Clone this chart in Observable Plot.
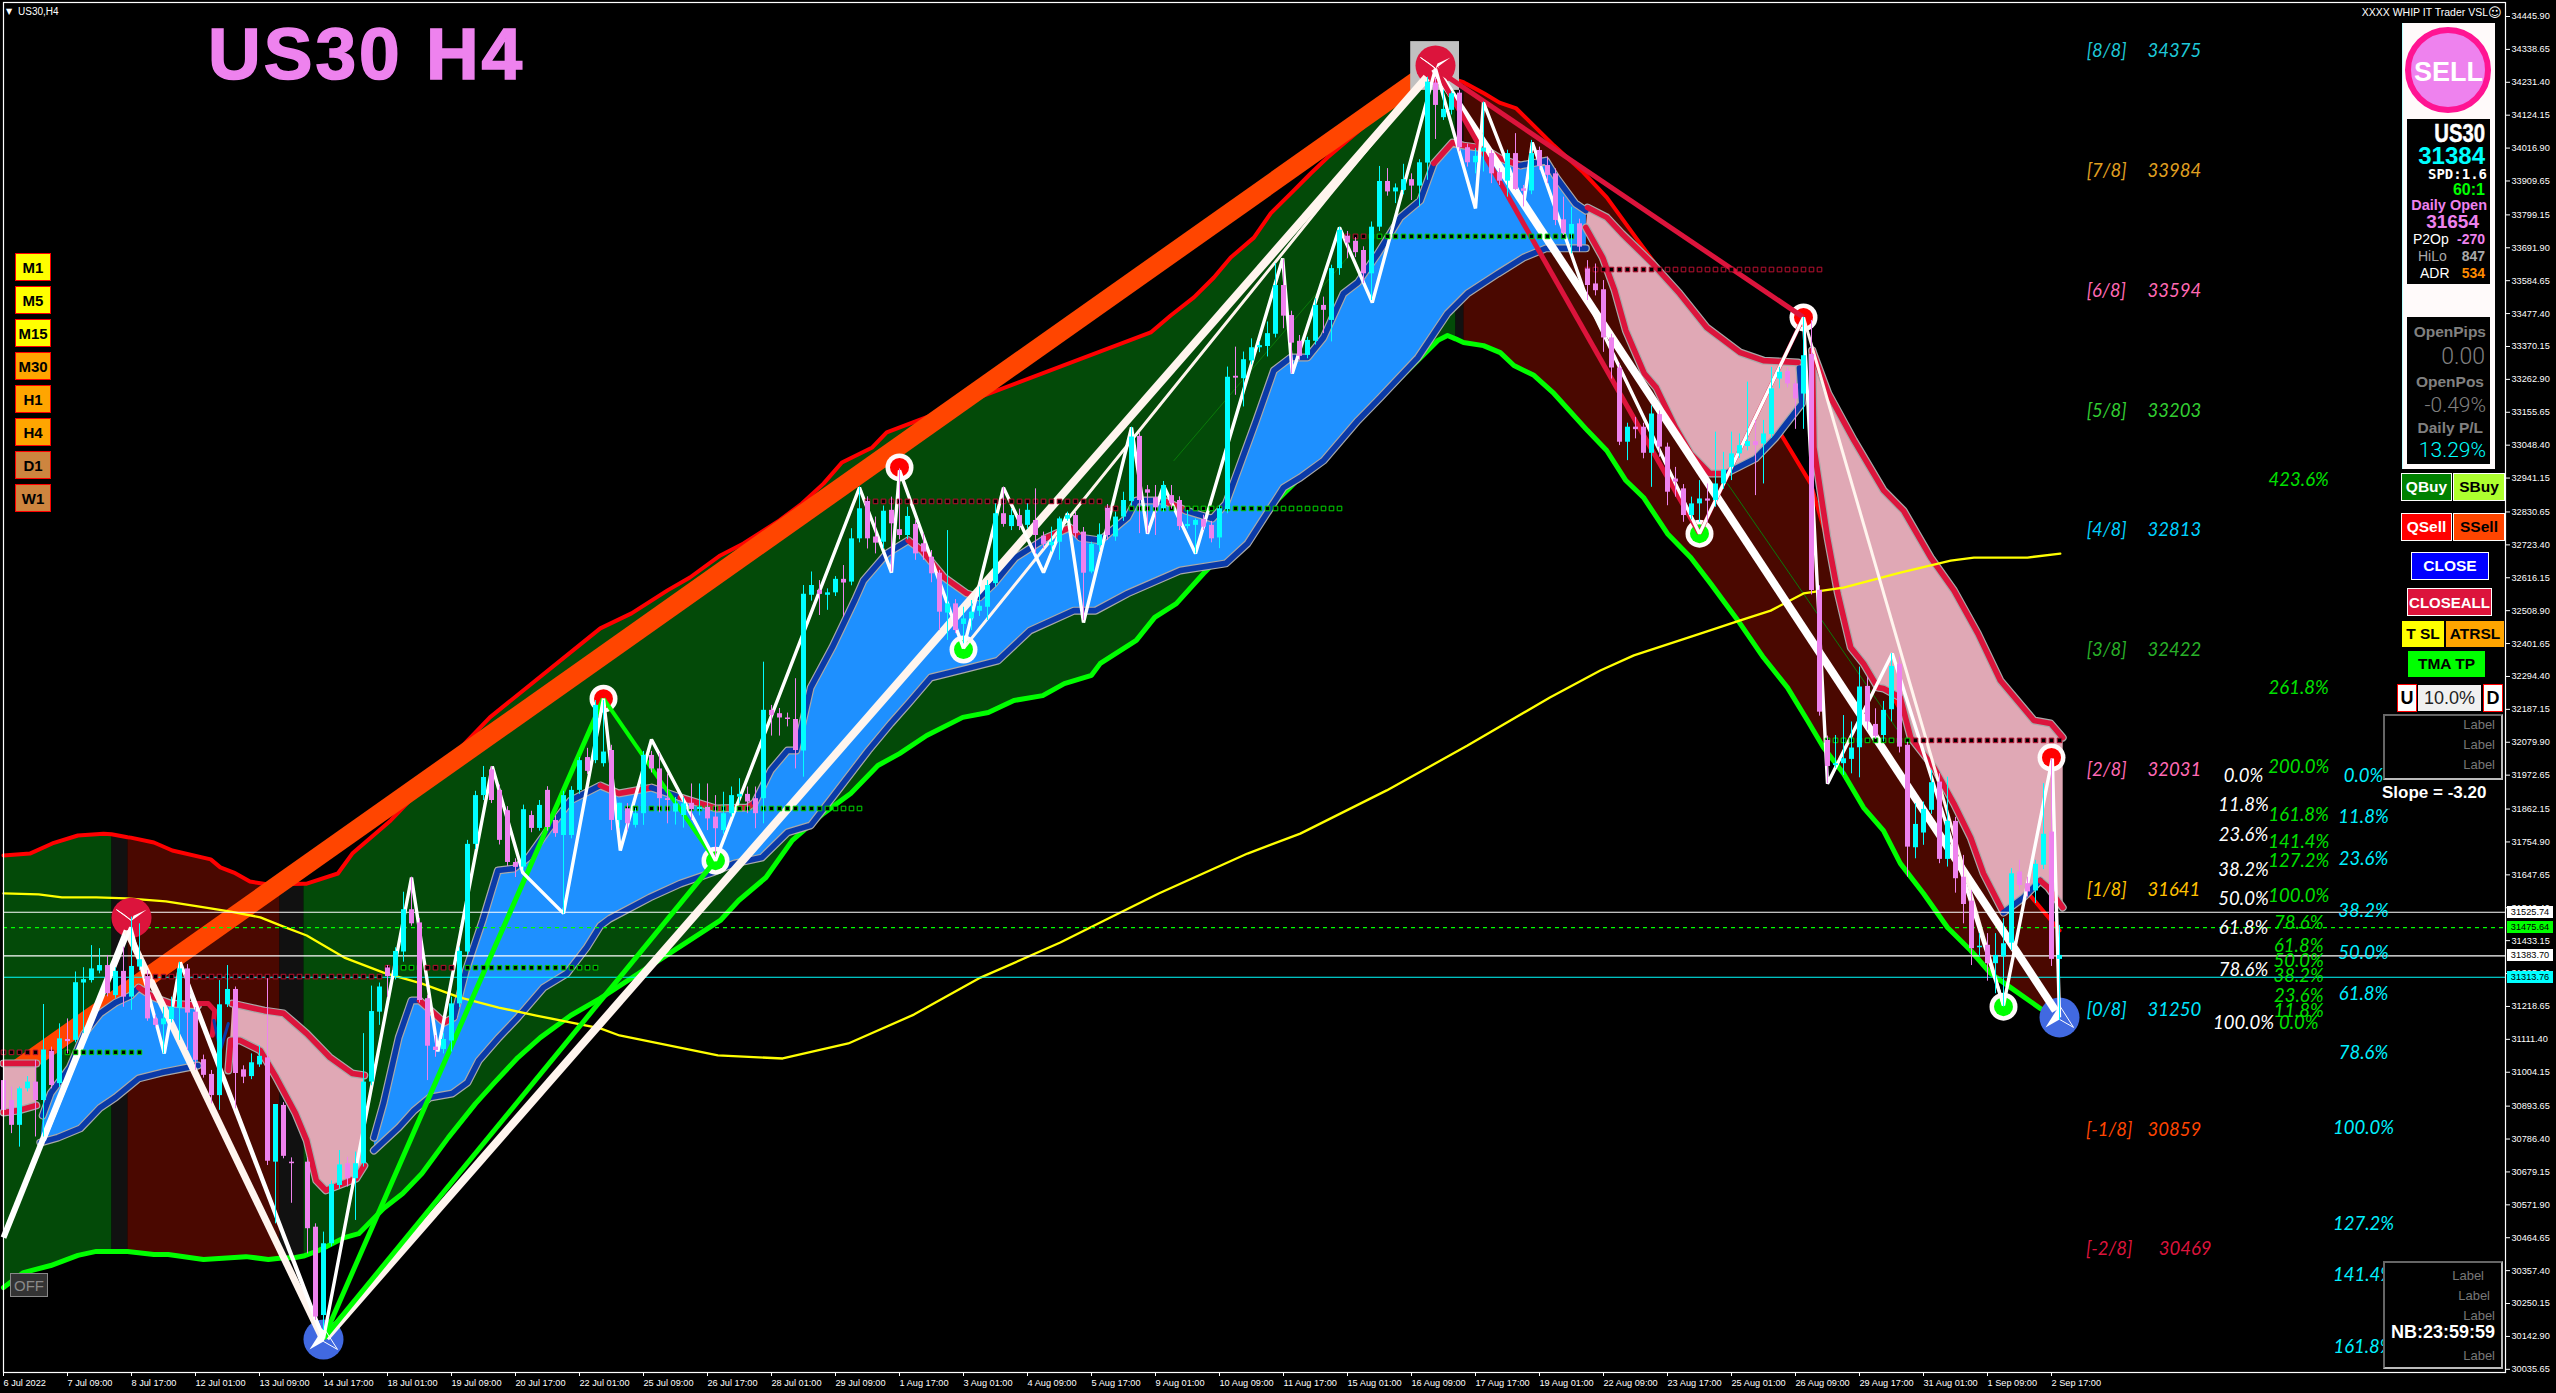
<!DOCTYPE html>
<html><head><meta charset="utf-8">
<script src="https://cdn.jsdelivr.net/npm/d3@7"></script>
<script src="https://cdn.jsdelivr.net/npm/@observablehq/plot@0.6"></script>
<style>
html,body{margin:0;padding:0;background:#000;overflow:hidden}
#chart{position:relative;width:2556px;height:1393px;font-family:"Liberation Sans",Arial,sans-serif}
#chart svg{display:block;position:absolute;left:0;top:0}
.w{position:absolute;display:flex;align-items:center;justify-content:center;box-sizing:border-box;white-space:nowrap;line-height:1}
.t{position:absolute;white-space:nowrap;line-height:1;transform:translateY(-50%)}
</style></head><body><div id="chart"></div>
<script>
const candleOpen=[30977,30912,30831,30950,30972,30912,31072,30967,31111,31108,
31295,31303,31334,31352,31254,31333,31249,31347,31316,31178,
31159,31176,31213,31341,31200,31045,30997,30928,31224,31274,
31012,30990,31028,31051,30711,30896,30711,null,30711,30499,
30211,30445,30635,30706,30657,30706,30972,31200,31344,31316,
31396,31534,31491,31244,31086,31078,31106,31227,31396,31747,
31906,31990,31923,31857,31688,31673,31841,31799,31923,31825,
31776,31776,31923,32030,32020,32010,32053,31825,31863,31809,
31847,32037,31993,31896,31852,31841,31881,31860,31868,31836,
31792,31847,31901,31910,31896,31896,32184,32173,32159,32154,
32051,32559,32575,32559,32567,32611,32602,32743,32865,32749,
32732,32836,32773,32754,32790,32727,32683,32631,32501,32531,
32464,32482,32507,32520,32597,32825,32783,32819,32787,32803,
32752,32721,32732,32807,32819,32765,32635,32721,32843,32749,
32814,32865,33077,32903,32877,32841,32884,32868,32783,32787,
32806,32787,32746,32838,33273,33265,33323,33366,33370,33410,
33569,33471,33387,33341,33387,33504,33455,33624,33730,33713,
33683,33607,33759,33908,33874,33879,33914,33893,33968,34229,
34116,34140,34196,34018,33969,34004,33999,33937,33909,33999,
33884,33877,34009,33960,33933,33783,33737,33770,33623,33574,
33555,33398,33300,33058,33107,33107,33022,33148,33042,32938,
32906,32819,32857,32873,32868,32922,32976,33020,33044,33060,
33052,33083,33264,33289,33248,33215,33344,32575,32086,32004,
32010,32024,32062,32262,32138,32102,32186,32334,32070,31736,
31784,31858,31950,31698,31822,31640,31562,31410,31418,31358,
31380,31425,31657,31619,31595,31679,31787,31372];
const candleHigh=[31000,30956,30956,30990,31043,31225,31086,31162,31178,31331,
31345,31417,31407,31385,31345,31412,31510,31488,31336,31190,
31216,31249,31363,31355,31215,31060,31010,31303,31352,31282,
31025,31064,31091,31309,30899,30905,30725,null,30725,30510,
30483,30650,30749,30727,30744,31130,31285,31295,31352,31410,
31591,31640,31505,31255,31124,31130,31249,31410,31760,31920,
32001,32001,31940,31870,31700,31875,31855,31890,31935,31840,
31920,31935,32030,32060,32216,32216,32070,31881,31880,31865,
32050,32050,32043,31977,31900,31900,31944,31944,31944,31906,
31917,31934,31961,31934,31934,32341,32200,32190,32175,32287,
32591,32635,32607,32580,32620,32656,32776,32912,32880,32814,
32850,32879,32971,32846,32803,32760,32705,32640,32770,32545,
32520,32542,32586,32607,32857,32912,32840,32840,32857,32906,
32765,32781,32814,32830,32830,32780,32732,32792,32855,32830,
32895,33107,33086,32917,32917,32930,32917,32880,32836,32808,
32820,32800,32850,33303,33368,33352,33395,33385,33450,33640,
33653,33485,33406,33400,33526,33531,33635,33759,33745,33725,
33695,33776,33957,33950,33900,33964,33933,33979,34248,34245,
34205,34200,34205,34030,34015,34167,34009,33950,34010,34064,
33895,34042,34020,33988,33949,33857,33824,33785,33650,33639,
33585,33410,33315,33120,33139,33120,33177,33160,33055,32976,
32920,32879,32933,32922,33091,33025,33091,33085,33254,33129,
33129,33302,33302,33300,33260,33465,33455,32590,32100,32102,
32167,32146,32325,32292,32189,32213,32369,32358,32080,31880,
31885,31988,31977,31966,31835,31711,31597,31456,31456,31456,
31505,31668,31695,31640,31695,31945,32026,31483];
const candleLow=[30860,30804,30760,30940,30793,30793,30950,30955,31064,31100,
31130,31295,31325,31250,31245,31216,31206,31335,31170,31150,
31064,31165,31108,31075,31010,30985,30901,30880,31215,30885,
30967,30980,31020,30700,30510,30722,30577,null,30412,30195,
30162,30435,30625,30630,30521,30695,30960,31157,31249,31305,
31363,31480,31230,30977,31053,31064,31070,31215,31385,31730,
31890,31880,31745,31675,31639,31660,31785,31790,31790,31770,
31520,31765,31910,31975,32010,31999,31792,31800,31790,31800,
31809,31980,31850,31814,31810,31800,31825,31840,31792,31705,
31780,31836,31880,31847,31798,31814,32100,32100,32130,31993,
31966,32540,32493,32510,32555,32488,32590,32730,32710,32694,
32710,32635,32740,32740,32673,32673,32600,32444,32412,32434,
32401,32444,32490,32477,32585,32781,32770,32770,32775,32694,
32710,32700,32673,32800,32745,32477,32629,32700,32738,32735,
32800,32850,32760,32760,32754,32830,32840,32770,32775,32694,
32770,32730,32711,32825,33211,33173,33310,33350,33336,33398,
33428,33281,33325,33330,33375,33412,33385,33602,33656,33660,
33575,33520,33745,33860,33836,33865,33846,33825,33912,34045,
34107,34125,34005,33955,33933,33939,33901,33895,33857,33879,
33825,33865,33945,33901,33764,33732,33672,33677,33520,33535,
33351,33264,33047,32998,33069,33004,32911,33009,32851,32879,
32797,32805,32797,32797,32846,32905,32933,33005,33030,32884,
32922,33070,33232,33235,33100,33100,32560,32165,31945,31995,
31972,31977,31964,32119,32090,32081,32146,32045,31640,31700,
31744,31845,31684,31673,31588,31488,31352,31380,31301,31260,
31217,31401,31597,31575,31554,31665,31349,31173];
const candleClose=[30880,30831,30950,30972,30912,31077,30961,31113,31104,31296,
31306,31341,31352,31260,31333,31249,31349,31371,31178,31157,
31178,31216,31341,31197,31043,30994,30928,31224,31274,31000,
30988,31035,31056,30714,30899,30730,30706,null,30494,30206,
30445,30638,30702,30657,30706,30972,31202,31282,31316,31398,
31534,31488,31238,31089,31075,31111,31227,31398,31747,31906,
31965,31890,31760,31688,31672,31860,31799,31874,31802,31782,
31906,31923,32020,31985,32200,32048,31825,31881,31814,31847,
32037,31993,31896,31890,31879,31879,31860,31868,31830,31798,
31847,31906,31910,31885,31847,32184,32167,32159,32154,32053,
32562,32591,32562,32567,32611,32599,32743,32841,32743,32729,
32833,32792,32754,32816,32694,32700,32629,32504,32531,32444,
32482,32504,32523,32591,32825,32790,32819,32783,32836,32754,
32725,32732,32808,32819,32760,32631,32725,32756,32754,32814,
32868,33075,32868,32892,32844,32917,32857,32783,32790,32803,
32781,32743,32841,33270,33267,33327,33366,33373,33412,33569,
33469,33381,33338,33390,33504,33488,33624,33749,33707,33676,
33607,33759,33908,33874,33887,33914,33893,33969,34232,34156,
34143,34194,34018,33969,33990,34017,33933,33909,33999,33882,
33876,33999,33957,33928,33781,33739,33768,33694,33569,33552,
33398,33300,33058,33107,33099,33022,33150,33042,32895,32928,
32819,32857,32873,32866,32922,32968,33020,33047,33060,33047,
33085,33232,33286,33248,33199,33340,32575,32178,32001,32010,
32026,32061,32260,32146,32099,32184,32327,32064,31738,31812,
31861,31948,31698,31822,31635,31551,31407,31415,31358,31385,
31423,31651,31613,31592,31682,31780,31372,31385];

const timeLabels=["6 Jul 2022","7 Jul 09:00","8 Jul 17:00","12 Jul 01:00","13 Jul 09:00","14 Jul 17:00","18 Jul 01:00","19 Jul 09:00","20 Jul 17:00","22 Jul 01:00","25 Jul 09:00","26 Jul 17:00","28 Jul 01:00","29 Jul 09:00","1 Aug 17:00","3 Aug 01:00","4 Aug 09:00","5 Aug 17:00","9 Aug 01:00","10 Aug 09:00","11 Aug 17:00","15 Aug 01:00","16 Aug 09:00","17 Aug 17:00","19 Aug 01:00","22 Aug 09:00","23 Aug 17:00","25 Aug 01:00","26 Aug 09:00","29 Aug 17:00","31 Aug 01:00","1 Sep 09:00","2 Sep 17:00"];
const priceTicks=[34445.90,34338.65,34231.40,34124.15,34016.90,33909.65,33799.15,33691.90,33584.65,33477.40,33370.15,33262.90,33155.65,33048.40,32941.15,32830.65,32723.40,32616.15,32508.90,32401.65,32294.40,32187.15,32079.90,31972.65,31862.15,31754.90,31647.65,31540.40,31433.15,31325.90,31218.65,31111.40,31004.15,30893.65,30786.40,30679.15,30571.90,30464.65,30357.40,30250.15,30142.90,30035.65];

const upperBar=[0,3.3,6.1,9.3,12.5,13.5,15.5,15.9,18.8,21.1,25.9,27.1,28.8,30.8,33.1,34.5,37.5,37.9,41.8,43.6,48.4,60.8,74.6,78.5,83,85.8,89.6,92.5,97,99.8,102.5,104.8,108.6,110.4,113.6,143.4,145.9,148.8,151.3,153.4,156.3,158.4,161.3,163.4,165.5,174.6,179.6,181.5,182.5,182.8,185.1,187,189.1,190.9,193.8,197.5,200.4,204.3,221.9,225.9,230.9,243.4,257];
const upperPrice=[31711,31717,31750,31776,31782,31780,31770,31769,31753,31727,31698,31672,31655,31626,31616,31617,31619,31619,31652,31717,31825,32161,32451,32500,32575,32617,32689,32728,32803,32858,32923,32992,33041,33090,33122,33416,33471,33530,33595,33660,33725,33804,33879,33934,33986,34188,34263,34240,34232,34227,34195,34165,34146,34100,34025,33937,33856,33716,33096,32923,32477,31890,31466];
const lowerBar=[0,2.5,5.9,9.3,11.6,13.5,14.9,15.5,18.8,20.6,25,30.3,33.1,34.5,36.5,37.5,39.4,42.6,44.4,47.5,49.9,52.3,55.6,59,61.4,64.3,67.1,70.9,74.6,80.9,89.6,91.9,95.3,98.6,102.5,105.9,109.3,112,115.4,119.9,123.1,126.3,129.9,132.6,136,137.1,141.6,143.9,146.6,150,179.3,180.5,181.5,182.5,185,187.1,188.8,191.3,193.8,198,200.4,202.8,205,208,210.9,213.4,216.8,220,223,225.5,227.5,230,232.5,235,237.1,240,243,245.9,248.4,250.9,254.6,256.8];
const lowerPrice=[30302,30351,30374,30407,30420,30420,30420,30420,30410,30410,30394,30403,30394,30398,30400,30405,30423,30465,30478,30560,30609,30674,30791,30902,30971,31052,31117,31189,31245,31352,31499,31564,31639,31760,31848,31913,32004,32043,32102,32161,32177,32216,32232,32271,32298,32337,32412,32487,32532,32630,33390,33406,33395,33383,33373,33350,33308,33276,33217,33096,33031,32933,32878,32760,32682,32597,32477,32356,32258,32151,32063,31978,31867,31792,31685,31587,31476,31401,31326,31280,31212,31186];

const maBar=[0,4.4,7.3,11.6,15.4,20.3,24.5,28.4,32.1,35,37.9,42.6,47.5,52.3,57,61.9,66.6,74.6,77,89.3,97.4,105.6,113.8,121.9,132.1,137.6,144.4,155.5,162.1,172.9,183,193.3,199.6,203.8,212.1,217.1,220.9,225,230,237.1,243.4,246.3,253,257.1];
const maPrice=[31587,31584,31574,31574,31571,31561,31544,31528,31509,31479,31450,31378,31329,31293,31248,31215,31189,31147,31124,31059,31049,31098,31192,31310,31427,31499,31587,31717,31782,31923,32069,32226,32314,32363,32434,32477,32509,32565,32584,32633,32672,32682,32682,32695];

const blue1TopBar=[4.9,5.9,8.3,10.1,12.1,14,15.9,16.9,18.8,20.9,24.3];
const blue1TopPrice=[30863,30935,31020,31130,31196,31231,31254,31280,31248,31228,31222];
const blue1TopTone=["b","b","b","b","b","b","b","c","c","c","c"];
const blue1LowBar=[4.6,6.8,9.6,12.1,14,16.9,19.8,24.3];
const blue1LowPrice=[30775,30791,30821,30889,30922,30984,31003,31026];
const blue2TopBar=[46.3,47.5,49.4,51,52,55.1,56.3,57.8,59.9,61.8,63.8,65.6,68,70.9,74.6,76.9,81,84.6,89.1,93,93.9,95.9,98,99.1,100.9,103.6,106.4,107.5,110.4,113.1,114.8,117.6,120.4,122,123.8,126.5,130.4,133.3,134.6,137.1,140.5,141.6,145,147.8,151.1,152.8,156.6,158.8,160.9,163,165,167.5,169.3,171.8,174.6,177.1,178.8,181.1,182.5,185,187.1,189.6,192.8,194.1,196.5,197.8];
const blue2TopPrice=[30791,30902,31117,31238,31238,31166,31183,31336,31499,31662,31668,31704,31792,31890,31939,31913,31932,31900,31864,31867,31883,31988,32053,32053,32258,32389,32542,32607,32695,32738,32705,32617,32565,32552,32597,32682,32747,32780,32747,32738,32813,32868,32868,32835,32809,32858,33129,33292,33334,33334,33399,33543,33579,33673,33791,33846,33967,34035,34025,34016,33983,33960,33976,33921,33836,33813];
const blue2TopTone="bbbbccbbbbbbbbccbcccbbbbbbbbbccccbbbccbbbbcbbbbbbbbbbbbbcccccbbbb".split("");
const blue2LowBar=[46.3,49.4,51.3,53.3,56.1,58,59.4,61.9,64.3,67.5,70.4,72.9,74.6,75.8,80.8,84.6,88.6,91.4,94.8,98,100.9,103.6,108.1,110.9,113.1,115.9,120.4,124.3,128.3,133.8,136.5,140.5,147.1,152.8,155.5,160,162.1,165,169.3,172.1,176.8,180.5,183,186.8,190,192.8,197.8];
const blue2LowPrice=[30749,30824,30879,30922,30935,30971,31042,31117,31183,31280,31326,31411,31482,31505,31574,31619,31655,31685,31704,31786,31809,31900,32053,32141,32206,32291,32320,32346,32444,32509,32509,32565,32640,32663,32728,32910,32943,32998,33129,33204,33334,33478,33543,33608,33660,33690,33690];

const pink1TopBar=[0,4.1];
const pink1TopPrice=[31033,31033];
const pink1LowBar=[0,1.8,4.1];
const pink1LowPrice=[30873,30879,30896];
const pink2TopBar=[28.6,32.6,35,37.9,40.8,43.6,45.1];
const pink2TopPrice=[31228,31205,31196,31130,31052,31000,30994];
const pink2LowBar=[28.1,28.4,29.6,32.1,34.1,36.5,37.9,39.1,40.3,44.1,45.1];
const pink2LowPrice=[31010,31108,31108,31075,30987,30870,30782,30651,30619,30658,30700];
const pink3TopBar=[198,200.4,202.3,206.1,209.5,212.9,217.1,220,224.3];
const pink3TopPrice=[33823,33791,33738,33641,33543,33432,33350,33324,33318];
const pink3LowBar=[197.8,199.9,201.4,202.8,205.1,206.6,209,210.9,213.3,215.3,219,221.5,224.8,224.5];
const pink3LowPrice=[33758,33660,33553,33422,33282,33236,33106,33021,32956,32956,33005,33073,33184,33300];
const pink3LowTone=["c","c","c","c","c","c","c","c","c","b","b","b","b","b"];
const pink4TopBar=[226.1,228.1,231.3,235,237.5,240.9,243.8,246.8,249.6,253.8,255.9,257.4];
const pink4TopPrice=[33357,33217,33064,32901,32835,32682,32575,32434,32281,32151,32141,32095];
const pink4LowBar=[226.1,226.3,228,229.3,230.9,232.5,234.3,235,237.1,238.4,241.3,243.8,245.9,247.5,250,252.5,254.6,255.6,257.4];
const pink4LowPrice=[33357,33041,32747,32565,32389,32337,32258,32255,32226,32095,31998,31880,31769,31652,31525,31574,31629,31606,31541];
const pink4LowTone=["c","c","c","c","c","c","c","c","c","c","c","c","c","c","b","b","c","c","c"];
const hookBar=[24.3,25.6,26.4,26.1];
const hookPrice=[31228,31228,31205,31125];
const stubBar=[26.3,27.1,28.1];
const stubPrice=[31173,31075,31163];

const zigBar=[5.1,15.9,20.1,22.1,40,51,54.3,61.1,64.9,70,75,77.1,81,89,107,111,112,120,125,130,133,135,141,143,145,149,153.9,159.9,161.1,167,171.1,179,184,185,190,191.1,198,212,225,228,236.1,250,256.1,257];
const zigPrice=[30782,31476,31065,31362,30136,31639,31072,32001,31655,31522,32222,31727,32089,31694,32910,32633,32966,32386,32910,32633,32826,32470,33106,32760,32917,32695,33129,33657,33282,33758,33513,34276,33820,34165,33830,34035,33520,32760,33465,31945,32369,31222,32027,31183];

const trendLines=[
 {name:"a",bars:[0,15.4],prices:[30465,31466],color:"#ffffff",width:6},
 {name:"b",bars:[15.4,40],prices:[31466,30130],color:"#fff5ee",width:7},
 {name:"c",bars:[23.3,40],prices:[31261,30130],color:"#ffffff",width:3},
 {name:"d",bars:[40.3,177.9],prices:[30139,34247],color:"#fff5ee",width:8},
 {name:"e",bars:[120,165.9,177.9],prices:[32386,33869,34247],color:"#fff5ee",width:3},
 {name:"f",bars:[178.9,256.5],prices:[34276,31205],color:"#ffffff",width:8},
 {name:"g",bars:[225,250],prices:[33465,31222],color:"#fff5ee",width:3},
 {name:"h",bars:[40,75],prices:[30136,32222],color:"#00ff00",width:5},
 {name:"i",bars:[75,89],prices:[32222,31694],color:"#00ff00",width:4},
 {name:"j",bars:[89,40],prices:[31694,30136],color:"#00ff00",width:5},
 {name:"k",bars:[179,225],prices:[34276,33465],color:"#dc143c",width:5},
 {name:"l",bars:[179,212],prices:[34276,32760],color:"#dc143c",width:5},
 {name:"m",bars:[212,225],prices:[32760,33465],color:"#dc143c",width:4}
];
const faintBar=[[146.3,168.4],[215.5,236.8]];
const faintPrice=[[32998,33673],[32923,32118]];

const squareStart=[0,8,18,48,50,53,58,78,108,138,141,168,171,198,228,239];
const squareEnd=[7,17,47,49,52,56,74,107,137,140,167,170,196,227,238,257];
const squarePrice=[31069,31069,31316,31345,31345,31345,31345,31864,32865,32842,32842,33729,33729,33621,32086,32086];
const squareTone=["r","g","r","r","g","r","g","g","r","r","g","r","g","r","g","r"];

const redBar=[75,112,225,256], redPrice=[32222,32976,33465,32030];
const greenBar=[89,120,212,250], greenPrice=[31694,32382,32760,31218];
const sellBar=[16,179], sellPrice=[31508,34286];
const buyBar=[40,257], buyPrice=[30133,31183];

const murrayTag=["[8/8]","[7/8]","[6/8]","[5/8]","[4/8]","[3/8]","[2/8]","[1/8]","[0/8]","[-1/8]","[-2/8]"];
const murrayLevel=[34375,33984,33594,33203,32813,32422,32031,31641,31250,30859,30469];
const murrayColor=["#1ec8d8","#e0a020","#ff69b4","#32cd32","#00d0ff","#28b028","#ff69b4","#ffc000","#00e5ff","#ff4500","#dc143c"];
const fibWhiteText=["0.0%","11.8%","23.6%","38.2%","50.0%","61.8%","78.6%","100.0%"];
const fibWhitePrice=[31971,31874,31776,31662,31570,31473,31336,31163];
const fibGreenText=["423.6%","261.8%","200.0%","161.8%","141.4%","127.2%","100.0%","78.6%","61.8%","50.0%","38.2%","23.6%","11.8%","0.0%"];
const fibGreenPrice=[32936,32255,31998,31844,31753,31694,31580,31489,31417,31368,31319,31254,31205,31163];
const fibCyanText=["0.0%","11.8%","23.6%","38.2%","50.0%","61.8%","78.6%","100.0%","127.2%","141.4%","161.8%"];
const fibCyanPrice=[31971,31835,31698,31531,31394,31258,31065,30821,30508,30342,30107];
const solidLines=[31525.74,31383.70];
const dashLine=[31475.64];
const cyanLine=[31313.76];
const priceLines=[31525.74,31475.64,31383.70,31313.76];
const regionFrom=[0,13.5,15.5,34.5,37.5,181.5,182.5];
const regionTo=[13.5,15.5,34.5,37.5,181.5,182.5,258];
const regionColor=["#034a08","#111111","#4a0800","#111111","#034a08","#111111","#4a0800"];

const BLUE="#0a3aa8",CRIM="#dc143c",HALO="#a9a9a9",RIBBON="#1e90ff",PINK="#e0a8b5",UP="#00ffff",DN="#ee82ee";
const pts=(bars,prices,tones)=>bars.map((b,i)=>({x:b,y:prices[i],t:tones?(tones[i]==="c"?CRIM:BLUE):null}));
const uniform=(n,t)=>Array(n).fill(t);
const upperRows=pts(upperBar,upperPrice), lowerRows=pts(lowerBar,lowerPrice);
const regionPoly=(a,b)=>[...upperRows.filter(d=>d.x>=a&&d.x<=b),...lowerRows.filter(d=>d.x>=a&&d.x<=b).reverse()];
const candles=candleOpen.map((o,i)=>({i,o,h:candleHigh[i],l:candleLow[i],c:candleClose[i]})).filter(d=>d.o!==null);

const ribbons=[
 {fill:RIBBON,top:pts(blue1TopBar,blue1TopPrice,blue1TopTone),low:pts(blue1LowBar,blue1LowPrice,uniform(8,"b"))},
 {fill:RIBBON,top:pts(blue2TopBar,blue2TopPrice,blue2TopTone),low:pts(blue2LowBar,blue2LowPrice,uniform(47,"b"))},
 {fill:PINK,top:pts(pink1TopBar,pink1TopPrice,uniform(2,"c")),low:pts(pink1LowBar,pink1LowPrice,uniform(3,"c"))},
 {fill:PINK,top:pts(pink2TopBar,pink2TopPrice,uniform(7,"c")),low:pts(pink2LowBar,pink2LowPrice,uniform(11,"c"))},
 {fill:PINK,top:pts(pink3TopBar,pink3TopPrice,uniform(9,"c")),low:pts(pink3LowBar,pink3LowPrice,pink3LowTone)},
 {fill:PINK,top:pts(pink4TopBar,pink4TopPrice,uniform(12,"c")),low:pts(pink4LowBar,pink4LowPrice,pink4LowTone)}
];
const ribbonMarks=[];
for(const r of ribbons){
 ribbonMarks.push(Plot.line([...r.top,...[...r.low].reverse()],{x:"x",y:"y",fill:r.fill,stroke:"none"}));
}
for(const r of ribbons){
 for(const s of [r.top,r.low]){
  ribbonMarks.push(Plot.line(s,{x:"x",y:"y",stroke:HALO,strokeWidth:8}));
 }
}
for(const r of ribbons){
 for(const s of [r.top,r.low]){
  ribbonMarks.push(Plot.line(s,{x:"x",y:"y",z:null,stroke:"t",strokeWidth:5.6}));
 }
}
const squares=squareStart.flatMap((s,k)=>d3.range(s,squareEnd[k]+1).map(b=>({x:b,y:squarePrice[k],t:squareTone[k]})));
const glyph=(pts)=>({draw(c){c.moveTo(pts[0][0],pts[0][1]);for(const p of pts.slice(1))c.lineTo(p[0],p[1]);c.closePath();}});
const upSolid=glyph([[0,-12],[-14,10],[0,2]]),upHollow=glyph([[0,-12],[14,10],[0,2]]);
const dnSolid=glyph([[15,-8],[0,3],[2,-2]]),dnHollow=glyph([[-15,-8],[0,3],[-6,-2]]);

const fig=Plot.plot({
 width:2556,height:1393,marginLeft:3,marginRight:51,marginTop:2,marginBottom:21,
 x:{domain:[0,312.75],axis:null},
 y:{domain:[30025.3,34491.5],axis:null},
 style:{background:"#000",color:"#fff",fontFamily:"Liberation Sans, Arial, sans-serif"},
 marks:[
  ...regionFrom.map((a,k)=>Plot.line(regionPoly(a,regionTo[k]),{x:"x",y:"y",fill:regionColor[k],stroke:"none"})),
  Plot.line(upperRows,{x:"x",y:"y",stroke:"#ff0000",strokeWidth:4}),
  Plot.line(lowerRows,{x:"x",y:"y",stroke:"#00ff00",strokeWidth:5}),
  ...faintBar.map((b,k)=>Plot.line(pts(b,faintPrice[k]),{x:"x",y:"y",stroke:"#0a7a0a",strokeWidth:1})),
  Plot.line(pts([1.5,177.9],[31010,34260]),{x:"x",y:"y",stroke:"#ff4500",strokeWidth:19,strokeLinecap:"butt"}),
  ...ribbonMarks,
  Plot.line(pts(hookBar,hookPrice),{x:"x",y:"y",stroke:CRIM,strokeWidth:5}),
  Plot.line(pts(stubBar,stubPrice),{x:"x",y:"y",stroke:BLUE,strokeWidth:3}),
  Plot.line(pts(maBar,maPrice),{x:"x",y:"y",stroke:"#ffff00",strokeWidth:2.3}),
  Plot.ruleY(solidLines,{stroke:"#ffffff",strokeWidth:1.2}),
  Plot.ruleY(dashLine,{stroke:"#00ff00",strokeWidth:1.2,strokeDasharray:"4,4"}),
  Plot.ruleY(cyanLine,{stroke:"#00ffff",strokeWidth:1.2}),
  Plot.rect([0],{x1:175.9,x2:182,y1:34364,y2:34205,fill:"#c0c0c0"}),
  Plot.dot(redBar,{x:d=>d,y:(d,i)=>redPrice[i],r:14,fill:"#fffafa"}),
  Plot.dot(greenBar,{x:d=>d,y:(d,i)=>greenPrice[i],r:14,fill:"#fffafa"}),
  Plot.dot(redBar,{x:d=>d,y:(d,i)=>redPrice[i],r:9.5,fill:"#ff0000"}),
  Plot.dot(greenBar,{x:d=>d,y:(d,i)=>greenPrice[i],r:9.5,fill:"#00ff00"}),
  Plot.dot(sellBar,{x:d=>d,y:(d,i)=>sellPrice[i],r:20,fill:CRIM}),
  Plot.dot(buyBar,{x:d=>d,y:(d,i)=>buyPrice[i],r:20,fill:"#4169e1"}),
  ...trendLines.map(t=>Plot.line(pts(t.bars,t.prices),{x:"x",y:"y",stroke:t.color,strokeWidth:t.width,strokeLinecap:"butt"})),
  Plot.line(pts(zigBar,zigPrice),{x:"x",y:"y",stroke:"#ffffff",strokeWidth:3.4,strokeLinejoin:"miter",strokeLinecap:"butt"}),
  Plot.dot(sellBar,{x:d=>d,y:(d,i)=>sellPrice[i],symbol:()=>dnSolid,r:5,fill:"#fff",stroke:"none"}),
  Plot.dot(sellBar,{x:d=>d,y:(d,i)=>sellPrice[i],symbol:()=>dnHollow,r:5,fill:"none",stroke:"#fff",strokeWidth:1}),
  Plot.dot(buyBar,{x:d=>d,y:(d,i)=>buyPrice[i],symbol:()=>upSolid,r:5,fill:"#fff",stroke:"none"}),
  Plot.dot(buyBar,{x:d=>d,y:(d,i)=>buyPrice[i],symbol:()=>upHollow,r:5,fill:"none",stroke:"#fff",strokeWidth:1}),
  Plot.dot(squares,{x:"x",y:"y",symbol:"square",r:2.6,fill:"#000",stroke:d=>d.t==="g"?"#00d800":"#b81030",strokeWidth:1}),
  Plot.ruleX(candles,{x:"i",y1:"l",y2:"h",stroke:d=>d.c>=d.o?UP:DN,strokeWidth:1}),
  Plot.ruleX(candles,{x:"i",y1:"o",y2:"c",stroke:d=>d.c>=d.o?UP:DN,strokeWidth:5}),
  Plot.text(murrayTag,{x:d=>d.includes("-")?260.3:260.4,y:(d,i)=>murrayLevel[i],text:d=>d,dy:13,fill:(d,i)=>murrayColor[i],textAnchor:"start",fontSize:18.5,fontStyle:"italic",fontFamily:"Lato"}),
  Plot.text(murrayLevel,{x:(d,i)=>i===10?269.4:268,y:d=>d,text:d=>String(d),dy:13,fill:(d,i)=>murrayColor[i],textAnchor:"start",fontSize:18.5,fontStyle:"italic",fontFamily:"Lato"}),
  Plot.text(fibWhiteText,{x:280,y:(d,i)=>fibWhitePrice[i],text:d=>d,fill:"#fff",fontSize:18.5,fontStyle:"italic",fontFamily:"Lato"}),
  Plot.text(fibGreenText,{x:286.9,y:(d,i)=>fibGreenPrice[i],text:d=>d,fill:"#00e000",fontSize:18.5,fontStyle:"italic",fontFamily:"Lato"}),
  Plot.text(fibCyanText,{x:295,y:(d,i)=>fibCyanPrice[i],text:d=>d,fill:"#00f0ff",fontSize:18.5,fontStyle:"italic",fontFamily:"Lato"}),
  Plot.axisX(d3.range(0,timeLabels.length).map(i=>i*8),{anchor:"bottom",label:null,tickSize:4,tickPadding:3,fontSize:9.2,color:"#fff",stroke:"#fff",textAnchor:"start",tickFormat:d=>timeLabels[d/8]}),
  Plot.axisY(priceTicks,{anchor:"right",label:null,tickSize:4,tickPadding:2,fontSize:9.2,color:"#fff",stroke:"#fff",tickFormat:d3.format(".2f")}),
  Plot.frame({stroke:"#fff",strokeWidth:1.2})
 ]
});
const host=document.getElementById("chart");
host.appendChild(fig);

function box(l,t,w,h,txt,css){const d=document.createElement("div");d.className="w";d.style.cssText=`left:${l}px;top:${t}px;width:${w}px;height:${h}px;${css||""}`;d.textContent=txt||"";host.appendChild(d);return d;}
function rt(right,cy,txt,css){const d=document.createElement("div");d.className="t";d.style.cssText=`right:${2556-right}px;top:${cy}px;${css||""}`;d.textContent=txt;host.appendChild(d);return d;}
function lt(left,cy,txt,css){const d=document.createElement("div");d.className="t";d.style.cssText=`left:${left}px;top:${cy}px;${css||""}`;d.textContent=txt;host.appendChild(d);return d;}

lt(208,53,"US30 H4","font:bold 73px 'Liberation Sans',Arial,sans-serif;letter-spacing:3px;color:#ee82ee;-webkit-text-stroke:1.6px #ee82ee");
lt(6,11,"▼","font:8px 'DejaVu Sans';color:#fff");
lt(18,11,"US30,H4","font:10px 'Liberation Sans';color:#fff");

const tfNames=["M1","M5","M15","M30","H1","H4","D1","W1"];
const tfColors=["#ffff00","#ffff00","#ffff00","#ffa500","#ffa500","#ffa500","#cd853f","#cd853f"];
tfNames.forEach((n,i)=>box(15,253+33*i,36,28,n,`background:${tfColors[i]};border:1px solid #f00;color:#000;font:bold 15px 'Liberation Sans'`));
box(10,1273,38,24,"OFF","background:#333;border:1px solid #888;color:#8a8a8a;font:15px 'Liberation Sans'");

rt(2488,12,"XXXX WHIP IT Trader VSL","font:10.5px 'Liberation Sans';color:#fff");
lt(2488,12,"☺","font:13px 'DejaVu Sans';color:#fff");

box(2402,23,93,446,"","background:#fffafa;border-left:1px solid #bff");
box(2405,27,86,86,"","background:#ee82ee;border:6px solid #ff1493;border-radius:50%");
lt(2414,72,"SELL","font:bold 27px 'Liberation Sans';color:#fff");
box(2407,119,83,165,"","background:#000");
rt(2485,133,"US30","font:bold 26px 'Liberation Sans';color:#fff;transform:translateY(-50%) scaleX(.78);transform-origin:right center;-webkit-text-stroke:.5px #fff");
rt(2485,156,"31384","font:bold 24px 'Liberation Sans';color:#00ffff");
rt(2487,174,"SPD:1.6","font:bold 14px 'DejaVu Sans Mono';color:#fff");
rt(2485,190,"60:1","font:bold 16px 'Liberation Sans';color:#00ff00");
rt(2487,205,"Daily Open","font:bold 14.5px 'Liberation Sans';color:#ee82ee");
rt(2479,222,"31654","font:bold 19px 'Liberation Sans';color:#ee82ee");
lt(2413,239,"P2Op","font:14px 'Liberation Sans';color:#fff");
rt(2485,239,"-270","font:bold 14px 'Liberation Sans';color:#ee82ee");
lt(2418,256,"HiLo","font:14px 'Liberation Sans';color:#a9a9a9");
rt(2485,256,"847","font:bold 14px 'Liberation Sans';color:#a9a9a9");
lt(2420,273,"ADR","font:14px 'Liberation Sans';color:#fff");
rt(2485,273,"534","font:bold 14px 'Liberation Sans';color:#ff8c00");

box(2407,317,83,147,"","background:#000");
rt(2486,332,"OpenPips","font:bold 15.5px 'Liberation Sans';color:#808080");
rt(2485,356,"0.00","font:300 23px Roboto;color:#808080");
rt(2484,382,"OpenPos","font:bold 15.5px 'Liberation Sans';color:#808080");
rt(2486,405,"-0.49%","font:300 21px Roboto;color:#808080");
rt(2483,428,"Daily P/L","font:bold 15.5px 'Liberation Sans';color:#808080");
rt(2486,450,"13.29%","font:300 21px Roboto;color:#00ffff");

box(2401,473,51,28,"QBuy","background:#008000;border:1px solid #fff;color:#fff;font:bold 15.5px 'Liberation Sans'");
box(2453,473,52,28,"SBuy","background:#adff2f;border:1px solid #fff;color:#000;font:bold 15.5px 'Liberation Sans'");
box(2401,513,51,28,"QSell","background:#ff0000;border:1px solid #fff;color:#fff;font:bold 15.5px 'Liberation Sans'");
box(2453,513,52,28,"SSell","background:#ff4500;border:1px solid #fff;color:#000;font:bold 15.5px 'Liberation Sans'");
box(2411,552,78,28,"CLOSE","background:#0000ff;border:1px solid #fff;color:#fff;font:bold 15.5px 'Liberation Sans'");
box(2407,588,85,28,"CLOSEALL","background:#dc143c;border:1px solid #fff;color:#fff;font:bold 15px 'Liberation Sans'");
box(2402,621,42,26,"T SL","background:#ffff00;color:#000;font:bold 15.5px 'Liberation Sans'");
box(2446,621,58,26,"ATRSL","background:#ffa500;color:#000;font:bold 15.5px 'Liberation Sans'");
box(2408,651,77,26,"TMA TP","background:#00ff00;color:#000;font:bold 15.5px 'Liberation Sans'");
box(2397,684,20,28,"U","background:#fff;border:1px solid #f00;color:#000;font:bold 18px 'Liberation Sans'");
box(2418,685,63,26,"10.0%","background:#f0f0f0;color:#222;font:18px 'Liberation Sans'");
box(2483,684,20,28,"D","background:#fff;border:1px solid #f00;color:#000;font:bold 18px 'Liberation Sans'");

box(2383,714,120,66,"","background:#000;border:2px solid;border-color:#666 #bbb #bbb #666");
rt(2495,724,"Label","font:13px 'Liberation Sans';color:#777");
rt(2495,744,"Label","font:13px 'Liberation Sans';color:#777");
rt(2495,764,"Label","font:13px 'Liberation Sans';color:#777");
lt(2382,793,"Slope = -3.20","font:bold 17px 'Liberation Sans';color:#fff");

box(2383,1261,120,108,"","background:#000;border:2px solid;border-color:#666 #bbb #bbb #666");
rt(2484,1275,"Label","font:13px 'Liberation Sans';color:#777");
rt(2490,1295,"Label","font:13px 'Liberation Sans';color:#777");
rt(2495,1315,"Label","font:13px 'Liberation Sans';color:#777");
rt(2495,1332,"NB:23:59:59","font:bold 18px 'Liberation Sans';color:#fff");
rt(2495,1355,"Label","font:13px 'Liberation Sans';color:#777");

const yScale=fig.scale("y");
const tagBg=["#ffffff","#00ff00","#ffffff","#00ffff"];
priceLines.forEach((p,i)=>{const cy=yScale.apply(p);box(2507,cy-6,46,12,p.toFixed(2),`background:${tagBg[i]};color:#000;font:9.2px 'Liberation Sans'`);});
</script></body></html>
